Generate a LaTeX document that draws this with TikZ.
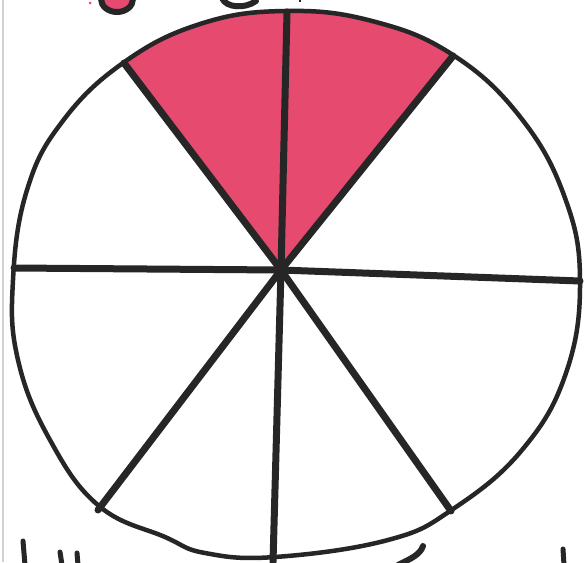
\documentclass[tikz,border=0pt]{standalone}
\usetikzlibrary{calc}
\definecolor{ink}{HTML}{262626}
\definecolor{marker}{RGB}{230,74,110}
\tikzset{
  rim/.style={draw=ink,line width=4.5pt,line join=round},
  spoke/.style={draw=ink,line width=7pt,line cap=round},
  scrap/.style={draw=ink,line width=6pt,line cap=round},
}
\def\circpath{plot[smooth cycle,tension=0.7] coordinates {(285,11) (372,21) (453,55) (521,118) (565,198) (580,281) (566,373) (522,450) (453,509) (388,540) (275,557) (205,553) (165,537) (99,506) (50,440) (18,360) (13,280) (27,190) (62,122) (123,63) (200,24)}}
\begin{document}
\begin{tikzpicture}[x=1pt,y=-1pt]
\useasboundingbox (0,0) rectangle (588,562);
\fill[white] (0,0) rectangle (588,562);
\draw[black!18,line width=1.5pt] (3,0) -- (3,562);
% named points
\coordinate (c) at (281,270);
\coordinate (top) at (287,12);
\coordinate (bot) at (273,562);
\coordinate (lft) at (14,268);
\coordinate (rgt) at (580,281);
\coordinate (ul) at (124,63);
\coordinate (ur) at (453,56);
\coordinate (ll) at (98,510);
\coordinate (lr) at (451,511);
% shaded sectors
\begin{scope}
  \clip \circpath;
  \fill[marker] (c) -- ($(c)!1.4!(ul)$) -- (285,-20) -- ($(c)!1.4!(ur)$) -- cycle;
\end{scope}
% circle
\path[rim] \circpath;
% spokes
\foreach \e in {top,bot,lft,rgt,ul,ur,ll,lr} \draw[spoke] (c) -- (\e);
% cut-off scraps of writing at the top
\fill[marker] (90,3) circle (1.5);
\draw[scrap,fill=marker] (117,-1) ellipse [x radius=16, y radius=13];
\draw[scrap] (222,-2) .. controls (226,8) and (245,9) .. (256,1);
\draw[ink,line width=2pt] (300,0) -- (300,2);
% cut-off scraps of writing at the bottom
\draw[ink,line width=5pt,line cap=round] (23,541) -- (25,565);
\draw[ink,line width=5pt,line cap=round] (60,552) -- (62,565);
\draw[ink,line width=5pt,line cap=round] (77,553) -- (78,565);
\draw[scrap] (423,546) .. controls (420,555) and (410,559) .. (398,565);
\draw[ink,line width=5pt,line cap=round] (563,549) -- (564,565);
\end{tikzpicture}
\end{document}
